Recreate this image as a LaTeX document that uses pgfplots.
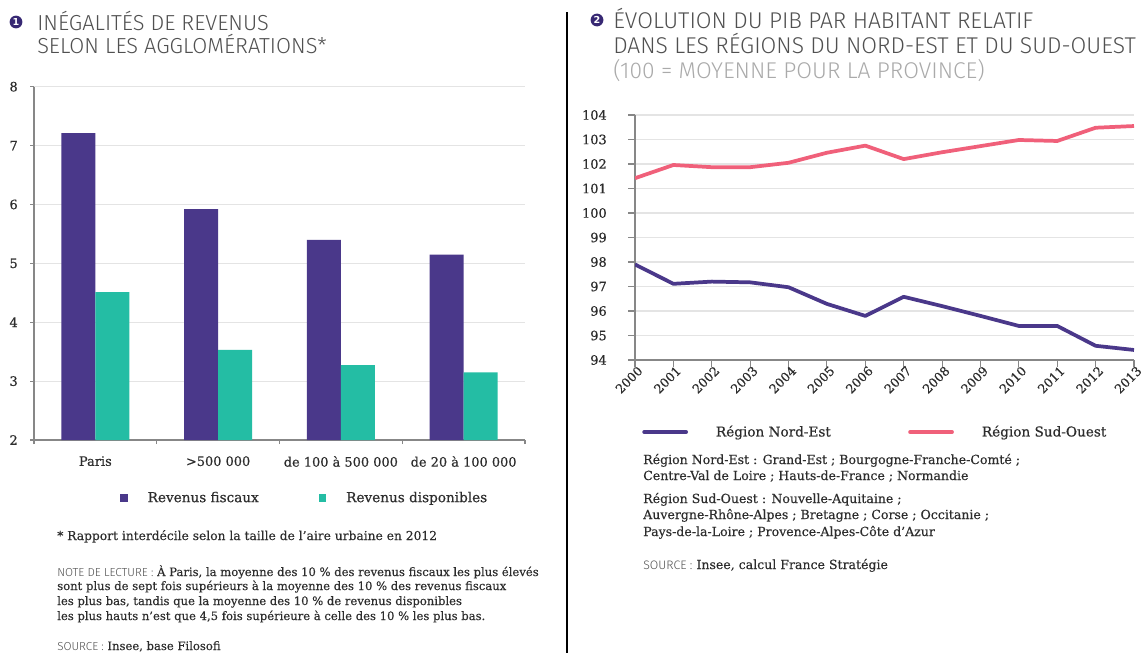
\documentclass[border=0pt]{standalone}
\usepackage{pgfplots}
\pgfplotsset{compat=1.18}
\usepackage{fontspec}
\setmainfont{DejaVu Serif}[FakeBold=0.25]
\newfontfamily\titlefont{Fira Sans Light}
\newfontfamily\numfont{DejaVu Sans}
\newfontfamily\tickfam{DejaVu Serif}[FakeBold=0.5]
\definecolor{violetc}{RGB}{74,56,138}
\definecolor{tealc}{RGB}{36,189,164}
\definecolor{rosec}{RGB}{240,96,122}
\definecolor{txt}{RGB}{45,45,45}
\definecolor{ttl}{RGB}{80,80,80}
\definecolor{subc}{RGB}{170,170,170}
\definecolor{gridc}{RGB}{228,228,228}
\definecolor{axc}{RGB}{135,135,135}
\definecolor{numc}{RGB}{55,40,115}
\newcommand{\tickfont}{\tickfam\fontsize{9.7}{11}\selectfont}
\newcommand{\bodyfont}{\fontsize{8.7}{10.5}\selectfont}
\newcommand{\rbodyfont}{\fontsize{9.4}{11}\selectfont}
\newcommand{\lblfont}{\titlefont\fontsize{8.7}{10.5}\selectfont\color{ttl}}
\newcommand{\rlblfont}{\titlefont\fontsize{9.2}{11}\selectfont\color{ttl}}
\pgfplotstableread{
x fisc disp
0 7.21 4.51
1 5.92 3.53
2 5.40 3.27
3 5.15 3.15
}\bars
\pgfplotstableread{
year ne so
2000 97.90 101.42
2001 97.11 101.96
2002 97.20 101.87
2003 97.17 101.87
2004 96.97 102.05
2005 96.29 102.46
2006 95.80 102.75
2007 96.58 102.20
2008 96.20 102.48
2009 95.80 102.73
2010 95.39 102.98
2011 95.39 102.94
2012 94.58 103.48
2013 94.41 103.55
}\pib
\begin{document}
\begin{tikzpicture}
\begin{scope}[x=0.75pt,y=-0.75pt]
\useasboundingbox (0,0) rectangle (1148,653);
\fill[white] (0,0) rectangle (1148,653);
\draw[black, line width=2.2pt] (567,12) -- (567,653);
% titles
\node[circle, fill=numc, minimum size=9.6pt, inner sep=0pt, text=white, font=\numfont\bfseries\fontsize{7.2}{7.2}\selectfont] at (16,22) {1};
\node[anchor=base west, inner sep=0pt, text=ttl, font=\titlefont\fontsize{16.3}{17.5}\selectfont] at (37,30) {INÉGALITÉS DE REVENUS};
\node[anchor=base west, inner sep=0pt, text=ttl, font=\titlefont\fontsize{16.3}{17.5}\selectfont] at (37,53) {SELON LES AGGLOMÉRATIONS*};
\node[circle, fill=numc, minimum size=9.6pt, inner sep=0pt, text=white, font=\numfont\bfseries\fontsize{7.2}{7.2}\selectfont] at (597,20) {2};
\node[anchor=base west, inner sep=0pt, text=ttl, font=\titlefont\fontsize{17.1}{17.5}\selectfont] at (613,28) {ÉVOLUTION DU PIB PAR HABITANT RELATIF};
\node[anchor=base west, inner sep=0pt, text=ttl, font=\titlefont\fontsize{17.1}{17.5}\selectfont] at (613,53) {DANS LES RÉGIONS DU NORD-EST ET DU SUD-OUEST};
\node[anchor=base west, inner sep=0pt, text=subc, font=\titlefont\fontsize{17.1}{17.5}\selectfont] at (613,78) {(100 = MOYENNE POUR LA PROVINCE)};
% left notes
\node[anchor=base west, inner sep=0pt, text=txt, font=\fontsize{9.2}{11}\selectfont] at (57,540) {* Rapport interdécile selon la taille de l’aire urbaine en 2012};
\node[anchor=base west, inner sep=0pt, text=txt, font=\bodyfont] at (57,576) {{\lblfont NOTE DE LECTURE :} À Paris, la moyenne des 10~\% des revenus fiscaux les plus élevés};
\node[anchor=base west, inner sep=0pt, text=txt, font=\bodyfont] at (57,590) {sont plus de sept fois supérieurs à la moyenne des 10~\% des revenus fiscaux};
\node[anchor=base west, inner sep=0pt, text=txt, font=\bodyfont] at (57,605) {les plus bas, tandis que la moyenne des 10~\% de revenus disponibles};
\node[anchor=base west, inner sep=0pt, text=txt, font=\bodyfont] at (57,620) {les plus hauts n’est que 4,5 fois supérieure à celle des 10~\% les plus bas.};
\node[anchor=base west, inner sep=0pt, text=txt, font=\bodyfont] at (57,650) {{\lblfont SOURCE :} Insee, base Filosofi};
% right notes
\node[anchor=base west, inner sep=0pt, text=txt, font=\rbodyfont] at (643,464) {Région Nord-Est : Grand-Est ; Bourgogne-Franche-Comté ;};
\node[anchor=base west, inner sep=0pt, text=txt, font=\rbodyfont] at (643,480) {Centre-Val de Loire ; Hauts-de-France ; Normandie};
\node[anchor=base west, inner sep=0pt, text=txt, font=\rbodyfont] at (643,503) {Région Sud-Ouest : Nouvelle-Aquitaine ;};
\node[anchor=base west, inner sep=0pt, text=txt, font=\rbodyfont] at (643,519) {Auvergne-Rhône-Alpes ; Bretagne ; Corse ; Occitanie ;};
\node[anchor=base west, inner sep=0pt, text=txt, font=\rbodyfont] at (643,536) {Pays-de-la-Loire ; Provence-Alpes-Côte d'Azur};
\node[anchor=base west, inner sep=0pt, text=txt, font=\rbodyfont] at (643,569) {{\rlblfont SOURCE :} Insee, calcul France Stratégie};
\end{scope}

% left bar chart
\begin{axis}[
  at={(25.5pt,-330pt)}, anchor=south west,
  width=368.25pt, height=265pt, scale only axis,
  xmin=-0.5, xmax=3.5, ymin=2, ymax=8,
  ybar=0pt, bar width=25.5pt,
  axis lines=left, axis line style={-, draw=axc, line width=1pt},
  xtick={-0.5,0.5,1.5,2.5,3.5}, xticklabels={},
  extra x ticks={0,1,2,3},
  extra x tick labels={Paris,{>500 000},{de 100 à 500 000},{de 20 à 100 000}},
  extra x tick style={major tick length=0pt, grid=none},
  ytick={2,3,...,8},
  ymajorgrids, grid style={gridc, line width=0.9pt},
  tick style={axc, line width=0.8pt}, major tick length=3pt, tick align=outside,
  tick label style={font=\tickfont, text=txt},
  /pgf/number format/assume math mode=true,
  yticklabel style={anchor=east, inner sep=0pt, xshift=-9pt},
  xticklabel style={anchor=north, inner sep=0pt, yshift=-12pt},
  legend style={at={(0.167,-0.164)}, anchor=west, draw=none, fill=none,
    legend columns=2, font=\tickfam\fontsize{10.2}{12}\selectfont, text=txt,
    nodes={inner sep=0pt},
    /tikz/every odd column/.append style={column sep=15pt},
    /tikz/every even column/.append style={column sep=45pt}},
  legend image code/.code={\fill[#1] (0pt,-2.8pt) rectangle (5.6pt,2.8pt);},
]
\addplot[fill=violetc, draw=none] table[x=x, y=fisc] {\bars};
\addplot[fill=tealc, draw=none] table[x=x, y=disp] {\bars};
\legend{Revenus fiscaux, Revenus disponibles}
\end{axis}

% right line chart
\begin{axis}[
  at={(476.25pt,-270pt)}, anchor=south west,
  width=374.25pt, height=183.75pt, scale only axis,
  xmin=2000, xmax=2013, ymin=94, ymax=104,
  axis lines=left, axis line style={-, draw=axc, line width=1pt},
  xtick={2000,2001,...,2013}, ytick={94,95,...,104},
  ymajorgrids, grid style={gridc, line width=0.9pt},
  tick style={axc, line width=0.8pt}, major tick length=5pt, tick align=outside,
  tick label style={font=\tickfont, text=txt},
  /pgf/number format/assume math mode=true,
  /pgf/number format/1000 sep={},
  yticklabel style={anchor=east, inner sep=0pt, xshift=-16pt},
  xticklabel style={rotate=45, anchor=north east, inner sep=0pt, xshift=2pt, font=\tickfam\fontsize{9.4}{10}\selectfont},
  legend style={at={(0.006,-0.294)}, anchor=west, draw=none, fill=none,
    legend columns=2, font=\tickfam\fontsize{10.2}{12}\selectfont, text=txt,
    nodes={inner sep=0pt},
    /tikz/every odd column/.append style={column sep=21pt},
    /tikz/every even column/.append style={column sep=58pt}},
  legend image code/.code={\draw[#1, line cap=round] (0pt,0pt) -- (31.5pt,0pt);},
]
\addplot[violetc, line width=2.8pt, line join=round] table[x=year, y=ne] {\pib};
\addplot[rosec, line width=2.8pt, line join=round] table[x=year, y=so] {\pib};
\legend{Région Nord-Est, Région Sud-Ouest}
\end{axis}
\end{tikzpicture}
\end{document}
